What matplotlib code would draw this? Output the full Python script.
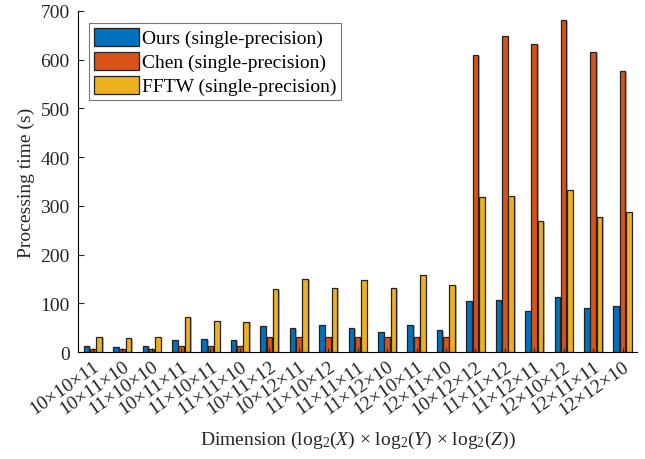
import numpy as np
import matplotlib
matplotlib.use("Agg")
import matplotlib.pyplot as plt
import matplotlib.patheffects as pe

plt.rcParams['font.family'] = ['Liberation Serif', 'DejaVu Serif']
plt.rcParams['mathtext.fontset'] = 'custom'
plt.rcParams['mathtext.rm'] = 'Liberation Serif'
plt.rcParams['mathtext.it'] = 'Liberation Serif:italic'

dims = ['10×10×11', '10×11×10', '11×10×10', '10×11×11', '11×10×11', '11×11×10',
        '10×11×12', '10×12×11', '11×10×12', '11×11×11', '11×12×10', '12×10×11',
        '12×11×10', '10×12×12', '11×11×12', '11×12×11', '12×10×12', '12×11×11',
        '12×12×10']
ours = [13, 11, 12, 25, 27, 25, 53, 49, 55, 49, 42, 55, 45, 105, 107, 85, 113, 90, 95]
chen = [6, 6, 6, 12, 12, 12, 31, 31, 31, 31, 30, 30, 30, 610, 648, 632, 681, 615, 577]
fftw = [30, 29, 30, 72, 64, 62, 129, 150, 132, 147, 131, 158, 137, 318, 320, 268, 333, 278, 288]

series = [ours, chen, fftw]
names = ['Ours (single-precision)', 'Chen (single-precision)', 'FFTW (single-precision)']
colors = ['#0072BD', '#D95319', '#EDB120']

fig = plt.figure(figsize=(6.45, 4.6), dpi=100)
ax = fig.add_axes([0.121, 0.2326, 0.867, 0.7414])

x = np.arange(1, len(dims) + 1)
w = 0.19
shadow = [pe.SimplePatchShadow(offset=(1.2, -0.5), shadow_rgbFace='0.45', alpha=0.5), pe.Normal()]
for i, (vals, nm, c) in enumerate(zip(series, names, colors)):
    bars = ax.bar(x + (i - 1) * 0.215, vals, w, color=c, edgecolor='#222222',
                  linewidth=0.9, label=nm)
    for b in bars:
        b.set_path_effects(shadow)

ax.set_xlim(0.5, 19.5)
ax.set_ylim(0, 700)
ax.set_yticks(range(0, 701, 100))
ax.set_xticks(x)
ax.set_xticklabels(dims, rotation=35, ha='right', rotation_mode='anchor')
ax.spines['top'].set_visible(False)
ax.spines['right'].set_visible(False)
ax.tick_params(direction='in', labelsize=14, length=4, width=0.8, colors='#262626')
ax.tick_params(axis='x', length=3, pad=4)
ax.tick_params(axis='y', pad=6)

ax.set_ylabel('Processing time (s)', fontsize=14, color='#262626', labelpad=4)
ax.set_xlabel(r'Dimension (log$_2$($X$) × log$_2$($Y$) × log$_2$($Z$))', fontsize=14,
              color='#262626', labelpad=8)

leg = ax.legend(loc='upper left', bbox_to_anchor=(0.02, 0.965), fontsize=14,
                fancybox=False, edgecolor='#777777', framealpha=1,
                handlelength=2.3, handleheight=1.05, handletextpad=0.15,
                labelspacing=0.22, borderpad=0.25, borderaxespad=0.0)
leg.get_frame().set_linewidth(0.8)

fig.savefig('out.png', dpi=100)
